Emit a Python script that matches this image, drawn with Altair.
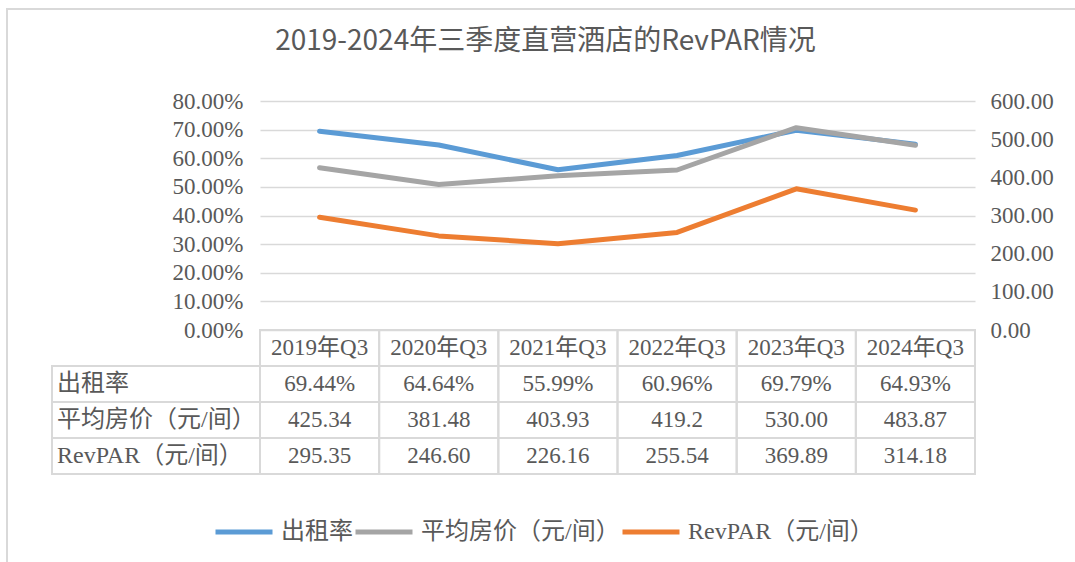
import altair as alt
import pandas as pd

# ---------------- data ----------------
categories = ["2019年Q3", "2020年Q3", "2021年Q3", "2022年Q3", "2023年Q3", "2024年Q3"]
occupancy = [69.44, 64.64, 55.99, 60.96, 69.79, 64.93]          # %
avg_price = [425.34, 381.48, 403.93, 419.20, 530.00, 483.87]    # 元/间
avg_price_text = ["425.34", "381.48", "403.93", "419.2", "530.00", "483.87"]
revpar = [295.35, 246.60, 226.16, 255.54, 369.89, 314.18]       # 元/间
series_names = ["出租率", "平均房价（元/间）", "RevPAR（元/间）"]
series_colors = ["#5B9BD5", "#A5A5A5", "#ED7D31"]
pct_ticks = [0, 0.1, 0.2, 0.3, 0.4, 0.5, 0.6, 0.7, 0.8]
price_ticks = [0, 100, 200, 300, 400, 500, 600]
title_text = "2019-2024年三季度直营酒店的RevPAR情况"

# ---------------- layout constants ----------------
W, H = 715, 229
ROW_H = 36
N = len(categories)
COL_W = W / N
LABEL_W = 208
label_x0 = -LABEL_W / COL_W
SERIF = "Liberation Serif, Noto Sans CJK SC, serif"
SANS = "Noto Sans CJK SC, sans-serif"
TXT = "#595959"
GRID = "#D9D9D9"

# ---------------- tables ----------------
pct_df = pd.DataFrame({
    "pos": [i + 0.5 for i in range(N)],
    "cat": categories,
    "series": series_names[0],
    "value": [v / 100 for v in occupancy],
})
price_df = pd.concat([
    pd.DataFrame({"pos": [i + 0.5 for i in range(N)], "cat": categories,
                  "series": series_names[1], "value": avg_price}),
    pd.DataFrame({"pos": [i + 0.5 for i in range(N)], "cat": categories,
                  "series": series_names[2], "value": revpar}),
], ignore_index=True)

row_texts = [
    categories,
    [f"{v:.2f}%" for v in occupancy],
    avg_price_text,
    [f"{v:.2f}" for v in revpar],
]
cells = []
for r, texts in enumerate(row_texts):
    for i, t in enumerate(texts):
        cells.append({"c0": i, "c1": i + 1, "r0": r, "r1": r + 1,
                      "xm": i + 0.5, "ym": r + 0.5, "text": t})
cells_df = pd.DataFrame(cells)

label_df = pd.DataFrame([
    {"c0": label_x0, "c1": 0, "r0": r, "r1": r + 1,
     "xm": label_x0 + 5 / COL_W, "ym": r + 0.5, "text": series_names[r - 1]}
    for r in range(1, 4)
])

# ---------------- scales ----------------
xscale = alt.Scale(domain=[0, N], nice=False, zero=False)
tscale = alt.Scale(domain=[0, 4], range=[H, H + 4 * ROW_H], nice=False, zero=False)

color = alt.Color(
    "series:N",
    scale=alt.Scale(domain=series_names, range=series_colors),
    legend=alt.Legend(
        orient="none", legendX=-47, legendY=400, direction="horizontal",
        title=None, symbolType="stroke", symbolStrokeWidth=5, symbolSize=3249,
        labelFont=SERIF, labelFontSize=24, labelColor=TXT, labelOffset=6,
        columnPadding=-10, labelLimit=400, padding=0,
    ),
)

line_kw = dict(strokeWidth=5, strokeCap="round", strokeJoin="round")

pct_line = alt.Chart(pct_df).mark_line(**line_kw).encode(
    x=alt.X("pos:Q", scale=xscale, axis=None),
    y=alt.Y("value:Q", scale=alt.Scale(domain=[0, 0.8], nice=False),
            axis=alt.Axis(orient="left", values=pct_ticks, format=".2%",
                          grid=True, gridColor=GRID, gridWidth=1.5,
                          domain=False, ticks=False, labelPadding=17,
                          labelFont=SERIF, labelFontSize=23, labelColor=TXT),
            title=None),
    color=color,
    order="pos:Q",
)

price_line = alt.Chart(price_df).mark_line(**line_kw).encode(
    x=alt.X("pos:Q", scale=xscale, axis=None),
    y=alt.Y("value:Q", scale=alt.Scale(domain=[0, 600], nice=False),
            axis=alt.Axis(orient="right", values=price_ticks, format=".2f",
                          grid=False, domain=False, ticks=False, labelPadding=15,
                          labelFont=SERIF, labelFontSize=23, labelColor=TXT),
            title=None),
    color=color,
    order="pos:Q",
)

cell_rect = alt.Chart(cells_df).mark_rect(
    fillOpacity=0, stroke=GRID, strokeWidth=2
).encode(
    x=alt.X("c0:Q", scale=xscale, axis=None), x2="c1:Q",
    y=alt.Y("r0:Q", scale=tscale, axis=None), y2="r1:Q",
)

label_rect = alt.Chart(label_df).mark_rect(
    fillOpacity=0, stroke=GRID, strokeWidth=2
).encode(
    x=alt.X("c0:Q", scale=xscale, axis=None), x2="c1:Q",
    y=alt.Y("r0:Q", scale=tscale, axis=None), y2="r1:Q",
)

cell_text = alt.Chart(cells_df).mark_text(
    font=SERIF, fontSize=23, color=TXT, align="center", baseline="middle"
).encode(
    x=alt.X("xm:Q", scale=xscale, axis=None),
    y=alt.Y("ym:Q", scale=tscale, axis=None),
    text="text:N",
)

label_text = alt.Chart(label_df).mark_text(
    font=SERIF, fontSize=24, color=TXT, align="left", baseline="middle"
).encode(
    x=alt.X("xm:Q", scale=xscale, axis=None),
    y=alt.Y("ym:Q", scale=tscale, axis=None),
    text="text:N",
)

frame = alt.Chart(pd.DataFrame({"f": [0]})).mark_rect(
    fillOpacity=0, stroke=GRID, strokeWidth=2
).encode(
    x=alt.value(7 - 260), x2=alt.value(1100 - 260),
    y=alt.value(9 - 101), y2=alt.value(600 - 101),
)

chart = alt.layer(
    frame, pct_line, price_line, cell_rect, label_rect, cell_text, label_text
).resolve_scale(
    y="independent"
).properties(
    width=W, height=H,
    autosize=alt.AutoSizeParams(type="none"),
    padding={"left": 260, "top": 101, "right": 100, "bottom": 232},
    title=alt.TitleParams(
        text=title_text, font=SANS, fontSize=28, fontWeight="normal",
        color=TXT, anchor="middle", frame="group", dx=-72, offset=-76,
        baseline="bottom",
    ),
).configure_view(stroke=None)

chart.save("out.html", embed_options={"renderer": "svg", "actions": False})
